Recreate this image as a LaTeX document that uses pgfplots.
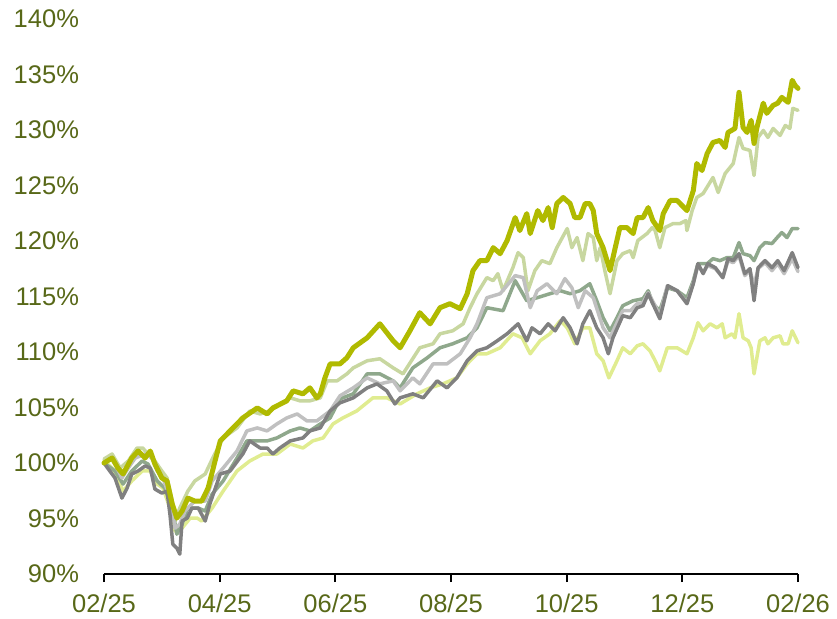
\documentclass[border=0pt]{standalone}
\usepackage{fontspec}
\setmainfont{Liberation Sans}
\usepackage{pgfplots}
\pgfplotsset{compat=1.18}
\definecolor{cOlive}{RGB}{176,186,0}
\definecolor{cSage}{RGB}{200,215,160}
\definecolor{cGreyGreen}{RGB}{143,168,140}
\definecolor{cLightGrey}{RGB}{192,192,192}
\definecolor{cDarkGrey}{RGB}{128,128,128}
\definecolor{cPale}{RGB}{224,236,144}
\definecolor{cLabel}{RGB}{88,104,24}
\begin{document}
\begin{tikzpicture}
\path[use as bounding box] (-52bp,-22.5bp) rectangle (366.5bp,287bp);
\begin{axis}[
  scale only axis, width=347bp, height=277.5bp,
  xmin=0, xmax=12, ymin=90, ymax=140,
  axis x line*=bottom, axis y line*=left,
  y axis line style={draw=none},
  x axis line style={black, line width=1bp},
  xtick={0,2,4,6,8,10,12},
  xticklabels={02/25,04/25,06/25,08/25,10/25,12/25,02/26},
  ytick={90,95,100,105,110,115,120,125,130,135,140},
  yticklabels={90\%,95\%,100\%,105\%,110\%,115\%,120\%,125\%,130\%,135\%,140\%},
  tick align=outside, major tick length=4bp,
  xtick style={black, line width=1bp},
  ytick style={draw=none},
  tick label style={font=\fontsize{12.8}{15}\selectfont, text=cLabel},
  yticklabel style={xshift=-5bp},
  xticklabel style={yshift=-2.5bp},
  every axis plot/.append style={line join=round, line cap=round, mark=none},
  clip=false,
]
% pale yellow
\addplot[cPale, line width=1.75bp] coordinates {
(0,100.18)(0.14,99.55)(0.33,97.47)(0.48,98.38)(0.66,99.28)(0.80,99.28)(0.92,98.10)(1.02,97.74)(1.14,95.94)(1.23,93.86)(1.35,94.13)(1.49,95.04)(1.61,95.04)(1.69,94.77)(1.87,95.94)(2.06,97.47)(2.30,99.28)(2.52,100.18)(2.75,100.81)(2.99,100.81)(3.22,101.71)(3.44,101.35)(3.61,101.99)(3.79,102.26)(3.96,103.52)(4.13,104.06)(4.37,104.69)(4.65,105.87)(4.89,105.87)(5.12,105.32)(5.41,106.23)(5.64,106.77)(5.86,107.13)(6.10,107.67)(6.28,108.93)(6.45,109.84)(6.62,109.84)(6.85,110.38)(7.07,111.64)(7.23,111.28)(7.37,109.84)(7.54,111.01)(7.71,111.64)(7.89,112.82)(8.01,112.18)(8.14,110.74)(8.28,112.18)(8.40,112.18)(8.52,109.84)(8.63,109.21)(8.73,107.67)(8.87,109.21)(8.97,110.38)(9.10,109.84)(9.22,110.56)(9.32,110.74)(9.44,110.11)(9.53,109.21)(9.61,108.30)(9.74,110.38)(9.91,110.38)(10.08,109.84)(10.19,111.28)(10.27,112.64)(10.36,111.91)(10.48,112.54)(10.60,112.18)(10.69,112.54)(10.74,111.28)(10.86,111.64)(10.91,111.28)(10.98,113.45)(11.05,111.28)(11.14,111.01)(11.19,110.38)(11.24,108.03)(11.34,111.01)(11.43,111.28)(11.48,110.74)(11.57,111.28)(11.69,111.46)(11.74,110.74)(11.83,110.74)(11.90,111.91)(12.00,110.83)
};
% sage
\addplot[cSage, line width=1.75bp] coordinates {
(0,100.36)(0.14,100.81)(0.28,99.55)(0.42,100.18)(0.57,101.35)(0.67,101.35)(0.76,100.81)(0.88,100.18)(1.00,99.28)(1.09,98.65)(1.18,96.57)(1.23,94.77)(1.31,95.94)(1.45,97.47)(1.57,98.38)(1.75,99.01)(1.88,100.45)(2.06,102.26)(2.30,103.16)(2.52,104.69)(2.70,104.42)(2.87,104.69)(3.04,105.32)(3.22,105.87)(3.39,105.60)(3.56,105.60)(3.74,105.87)(3.86,107.40)(4.03,107.40)(4.20,108.03)(4.31,108.57)(4.55,109.21)(4.77,109.39)(5.00,108.57)(5.17,108.03)(5.46,110.38)(5.69,110.74)(5.81,111.64)(6.03,111.91)(6.21,112.54)(6.33,113.99)(6.45,115.25)(6.62,116.70)(6.73,116.43)(6.81,117.06)(6.90,115.52)(7.07,117.60)(7.16,118.95)(7.25,118.50)(7.33,115.52)(7.45,117.33)(7.57,118.23)(7.71,117.96)(7.83,119.40)(8.01,121.12)(8.09,119.40)(8.18,120.31)(8.28,118.23)(8.37,120.67)(8.46,120.31)(8.52,118.23)(8.58,119.40)(8.66,117.33)(8.75,115.25)(8.87,118.23)(8.97,118.86)(9.10,119.13)(9.15,118.50)(9.23,120.04)(9.39,120.67)(9.48,121.21)(9.53,120.94)(9.61,119.40)(9.70,121.21)(9.84,121.57)(9.96,121.57)(10.06,121.84)(10.08,120.94)(10.17,122.74)(10.25,123.92)(10.36,124.28)(10.53,125.72)(10.62,124.37)(10.74,126.08)(10.88,126.98)(10.98,129.33)(11.05,128.34)(11.17,128.16)(11.24,125.90)(11.31,129.33)(11.40,129.96)(11.48,129.33)(11.57,130.14)(11.69,129.51)(11.78,130.41)(11.86,130.14)(11.91,131.95)(12.00,131.77)
};
% grey-green
\addplot[cGreyGreen, line width=1.75bp] coordinates {
(0,100)(0.19,99.28)(0.33,98.10)(0.48,99.28)(0.66,100.18)(0.76,99.91)(0.92,98.38)(1.05,97.74)(1.18,95.94)(1.26,93.59)(1.35,94.49)(1.45,95.94)(1.63,95.94)(1.75,95.67)(1.87,97.20)(2.06,98.38)(2.30,100.45)(2.47,101.99)(2.65,101.99)(2.82,101.99)(2.99,102.26)(3.22,102.89)(3.39,103.16)(3.56,102.89)(3.74,103.52)(3.91,104.06)(4.08,105.78)(4.31,106.23)(4.55,108.03)(4.77,108.03)(5.00,107.40)(5.12,106.77)(5.34,108.57)(5.59,109.48)(5.81,110.38)(6.03,110.74)(6.28,111.28)(6.45,112.18)(6.62,113.99)(6.90,113.72)(7.11,116.43)(7.31,114.62)(7.49,114.89)(7.71,115.25)(7.89,115.52)(8.06,115.25)(8.23,115.52)(8.40,116.15)(8.52,114.62)(8.63,113.09)(8.75,111.91)(8.87,113.09)(8.97,114.17)(9.15,114.62)(9.32,114.80)(9.41,115.52)(9.49,114.35)(9.61,113.72)(9.74,115.79)(9.91,115.52)(10.08,114.89)(10.19,116.43)(10.27,117.96)(10.43,117.96)(10.53,118.41)(10.65,118.23)(10.77,118.50)(10.88,118.50)(10.98,119.86)(11.05,118.86)(11.17,118.68)(11.24,118.23)(11.34,119.40)(11.43,119.86)(11.55,119.77)(11.64,120.31)(11.72,120.76)(11.81,120.31)(11.90,121.12)(12.00,121.12)
};
% light grey
\addplot[cLightGrey, line width=1.75bp] coordinates {
(0,100)(0.14,100.45)(0.31,98.65)(0.42,99.55)(0.54,100.45)(0.71,100.81)(0.83,100.45)(0.92,99.28)(1.02,98.65)(1.14,96.84)(1.23,94.13)(1.31,94.49)(1.40,95.67)(1.57,96.57)(1.75,96.57)(1.87,98.38)(2.06,99.55)(2.30,101.08)(2.47,102.89)(2.65,103.16)(2.82,102.89)(2.99,103.52)(3.16,104.06)(3.34,104.42)(3.51,103.79)(3.68,103.79)(3.91,104.69)(4.08,106.05)(4.31,106.77)(4.55,107.67)(4.77,107.13)(5.00,107.40)(5.12,106.50)(5.34,107.67)(5.46,107.13)(5.69,108.93)(5.93,108.93)(6.16,109.84)(6.33,111.28)(6.45,112.54)(6.62,114.89)(6.85,115.25)(7.11,116.88)(7.25,116.70)(7.37,113.99)(7.49,115.52)(7.66,116.15)(7.83,115.25)(7.97,116.61)(8.09,115.79)(8.20,113.99)(8.32,115.52)(8.46,114.89)(8.63,112.18)(8.75,111.28)(8.87,112.64)(8.97,113.72)(9.10,113.72)(9.22,114.35)(9.32,114.44)(9.41,115.34)(9.53,114.17)(9.61,113.27)(9.74,115.97)(9.91,115.52)(10.08,114.44)(10.19,116.24)(10.27,117.78)(10.36,117.15)(10.44,117.78)(10.57,117.51)(10.70,116.70)(10.79,118.23)(10.88,118.05)(10.98,118.68)(11.08,116.88)(11.17,117.33)(11.24,115.97)(11.31,117.51)(11.43,118.05)(11.55,117.33)(11.65,117.96)(11.76,117.06)(11.90,118.41)(12.00,117.24)
};
% dark grey
\addplot[cDarkGrey, line width=1.75bp] coordinates {
(0,100)(0.10,99.28)(0.19,98.65)(0.31,96.84)(0.40,97.74)(0.48,99.01)(0.59,99.28)(0.71,99.73)(0.80,99.55)(0.88,97.65)(1.00,97.29)(1.09,97.47)(1.14,95.40)(1.19,92.69)(1.26,92.33)(1.31,91.79)(1.35,94.77)(1.44,95.04)(1.52,95.94)(1.63,95.94)(1.75,94.77)(1.83,96.30)(2.01,99.01)(2.18,99.28)(2.40,100.81)(2.52,101.99)(2.70,101.35)(2.82,101.35)(2.92,100.81)(3.04,101.35)(3.22,101.99)(3.44,102.26)(3.56,102.89)(3.74,103.16)(3.91,104.69)(4.08,105.42)(4.31,105.87)(4.55,106.77)(4.72,107.13)(4.89,106.50)(5.03,105.32)(5.12,105.87)(5.34,106.23)(5.52,105.87)(5.76,107.40)(5.93,106.77)(6.10,107.67)(6.28,109.21)(6.45,110.11)(6.62,110.38)(6.80,111.01)(6.97,111.64)(7.16,112.54)(7.31,111.01)(7.40,112.18)(7.54,111.64)(7.68,112.54)(7.80,111.91)(7.94,113.09)(8.06,112.18)(8.18,110.74)(8.28,112.54)(8.40,113.72)(8.52,112.18)(8.63,111.28)(8.72,109.84)(8.80,111.28)(8.97,113.27)(9.10,113.09)(9.22,113.99)(9.32,114.17)(9.41,115.25)(9.53,113.90)(9.61,113.00)(9.75,115.97)(9.91,115.52)(10.08,114.35)(10.19,116.15)(10.27,117.96)(10.36,117.06)(10.44,117.96)(10.57,117.60)(10.70,116.70)(10.79,118.41)(10.88,118.23)(10.98,118.86)(11.08,117.06)(11.17,117.51)(11.24,114.62)(11.31,117.60)(11.43,118.23)(11.55,117.60)(11.65,118.23)(11.76,117.33)(11.90,118.95)(12.00,117.60)
};
% olive
\addplot[cOlive, line width=2.5bp] coordinates {
(0,100.00)(0.14,100.45)(0.24,99.55)(0.33,99.01)(0.48,100.45)(0.59,101.08)(0.71,100.45)(0.80,101.08)(0.88,99.91)(1.00,98.65)(1.09,98.38)(1.18,96.30)(1.26,95.04)(1.35,95.67)(1.45,96.84)(1.57,96.57)(1.69,96.57)(1.80,97.74)(1.92,100.18)(2.01,101.99)(2.18,102.89)(2.40,104.06)(2.65,104.96)(2.82,104.42)(2.92,104.96)(3.16,105.60)(3.27,106.50)(3.44,106.23)(3.56,106.77)(3.68,105.87)(3.74,106.23)(3.82,107.67)(3.91,108.93)(4.08,108.93)(4.20,109.48)(4.31,110.38)(4.55,111.28)(4.77,112.54)(5.00,111.01)(5.12,110.38)(5.29,111.91)(5.46,113.54)(5.64,112.54)(5.81,113.99)(5.98,114.35)(6.16,113.90)(6.28,115.25)(6.38,117.33)(6.50,118.23)(6.62,118.23)(6.73,119.40)(6.85,118.86)(6.97,120.04)(7.11,122.11)(7.19,120.94)(7.31,122.47)(7.37,120.67)(7.50,122.74)(7.59,121.84)(7.68,123.01)(7.75,121.21)(7.83,123.37)(7.94,123.92)(8.06,123.37)(8.14,122.11)(8.23,122.11)(8.32,123.37)(8.40,123.37)(8.46,122.74)(8.52,120.67)(8.63,119.40)(8.75,117.33)(8.84,119.40)(8.92,121.21)(9.04,121.21)(9.15,120.67)(9.22,122.11)(9.32,122.11)(9.41,123.01)(9.49,121.84)(9.61,120.94)(9.67,122.47)(9.79,123.65)(9.91,123.65)(10.08,122.74)(10.19,124.55)(10.25,126.98)(10.34,126.35)(10.43,127.89)(10.53,128.88)(10.65,129.06)(10.74,128.43)(10.79,129.78)(10.91,130.14)(10.98,133.39)(11.05,130.23)(11.12,129.78)(11.19,130.87)(11.24,128.79)(11.29,130.23)(11.40,132.42)(11.46,131.50)(11.57,132.22)(11.65,132.42)(11.72,132.94)(11.83,132.49)(11.90,134.48)(11.95,134.02)(12.00,133.75)
};
\end{axis}
\end{tikzpicture}
\end{document}
